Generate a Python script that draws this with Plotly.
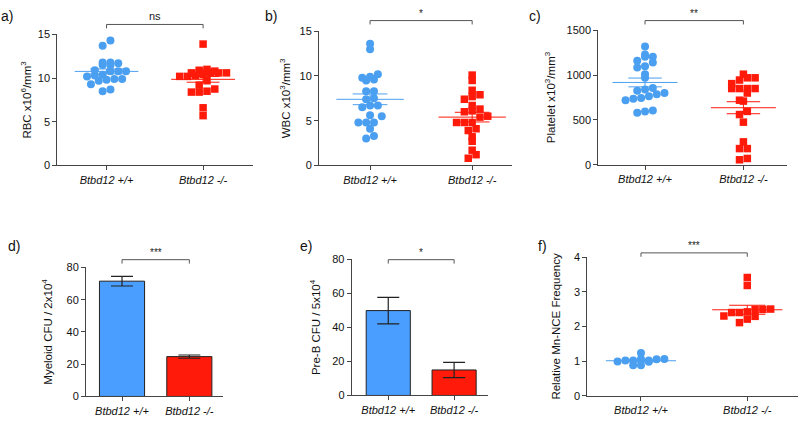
import numpy as np
import plotly.graph_objects as go

W, H = 800, 428

categories = ["Btbd12 +/+", "Btbd12 -/-"]

# a) RBC x10^6/mm^3
rbc_wt = [14.3, 13.7, 11.5, 11.8, 11.7, 11.8, 11.5, 10.3, 10.8, 10.8, 10.8,
          10.9, 10.2, 10.4, 9.9, 9.8, 9.7, 9.9, 9.3, 8.5, 8.7]
rbc_ko = [13.9, 10.9, 10.6, 10.6, 10.3, 10.6, 10.2, 10.7, 9.7, 10.6, 10.2,
          10.8, 10.4, 9.2, 11.0, 10.6, 8.75, 8.4, 8.4, 8.5, 6.6, 5.7]
rbc_mean = [10.77, 9.86]
rbc_sem = [0.28, 0.33]

# b) WBC x10^3/mm^3
wbc_wt = [13.6, 13.0, 9.9, 9.6, 9.5, 9.8, 10.2, 8.3, 8.3, 7.4, 7.5, 6.7,
          6.5, 6.7, 5.5, 5.6, 4.8, 4.8, 4.8, 4.1, 3.0, 3.3]
wbc_ko = [10.1, 9.5, 8.4, 7.7, 7.4, 7.9, 6.7, 6.3, 6.0, 6.1, 5.4, 5.5, 4.8,
          4.8, 4.8, 4.1, 3.9, 3.2, 2.7, 1.7, 1.2, 0.8]
wbc_mean = [7.39, 5.40]
wbc_sem = [0.60, 0.54]

# c) Platelet x10^3/mm^3
plt_wt = [1320, 1205, 1205, 1230, 1140, 1160, 1085, 1100, 1010, 970, 800,
          855, 825, 840, 765, 735, 720, 745, 785, 605, 580, 595]
plt_ko = [1010, 970, 970, 945, 905, 850, 850, 850, 850, 800, 710, 720, 595,
          560, 475, 255, 180, 180, 55, 70]
plt_mean = [918, 636]
plt_sem = [49, 67]

# d) Myeloid CFU / 2x10^4
myeloid_mean = [71.5, 24.7]
myeloid_sem = [3.0, 1.0]

# e) Pre-B CFU / 5x10^4
preb_mean = [49.9, 15.0]
preb_sem = [7.8, 4.5]

# f) Relative Mn-NCE frequency
mnnce_wt = [1.23, 1.02, 1.02, 1.06, 0.98, 1.05, 1.02, 1.06, 0.99, 1.02, 0.88, 0.88]
mnnce_ko = [3.41, 3.18, 2.50, 2.49, 2.49, 2.40, 2.40, 2.42, 2.29, 2.30, 2.21, 2.11]
mnnce_mean = [1.01, 2.48]
mnnce_sem = [0.03, 0.13]

significance = ["ns", "*", "**", "***", "*", "***"]
panel_letters = ["a)", "b)", "c)", "d)", "e)", "f)"]
y_titles = ["RBC x10<sup>6</sup>/mm<sup>3</sup>",
            "WBC x10<sup>3</sup>/mm<sup>3</sup>",
            "Platelet x10<sup>3</sup>/mm<sup>3</sup>",
            "Myeloid CFU / 2x10<sup>4</sup>",
            "Pre-B CFU / 5x10<sup>4</sup>",
            "Relative Mn-NCE Frequency"]

BLUE = "#4b9ff0"
BLUE_BAR = "#4a9eff"
RED = "#ff1a0a"
AX = "#444444"
FONT = "Liberation Sans, Arial, sans-serif"

# panel geometry in pixels: x span, x range, y top/bottom, y range, dtick, title standoff
panels = [
    dict(xp=(57.3, 253.3), xr=(-0.51, 1.52), yp=(29.3, 164.0), yr=(0, 15), dt=5, so=3,
         letter=(7, 10), brk=19),
    dict(xp=(319.0, 512.0), xr=(-0.50, 1.39), yp=(26.0, 164.0), yr=(0, 15), dt=5, so=6,
         letter=(271, 10), brk=15),
    dict(xp=(598.3, 786.7), xr=(-0.475, 1.44), yp=(25.0, 163.3), yr=(0, 1500), dt=500, so=8,
         letter=(535, 10), brk=15),
    dict(xp=(86.0, 223.0), xr=(-0.535, 1.50), yp=(269.0, 401.7), yr=(0, 80), dt=20, so=11,
         letter=(14, 247), brk=261),
    dict(xp=(351.7, 487.7), xr=(-0.555, 1.51), yp=(260.7, 400.7), yr=(0, 80), dt=20, so=9,
         letter=(306, 247), brk=261),
    dict(xp=(587.3, 798.3), xr=(-0.505, 1.48), yp=(258.3, 401.0), yr=(0, 4), dt=1, so=10,
         letter=(542, 247), brk=254),
]


def swarm(values, sx, sy, d=7.8, maxn=7):
    """Row-binned dot layout (like a column scatter): points whose values fall in the
    same marker-height band are spread side by side, centred on the category; very
    full rows wrap into a second, overlapping set of columns."""
    rows = {}
    for i, v in enumerate(values):
        rows.setdefault(int(round(v * sy / d)), []).append(i)
    offs = [0.0] * len(values)
    for idx in rows.values():
        idx = sorted(idx, key=lambda i: values[i])
        for c0 in range(0, len(idx), maxn):
            chunk = idx[c0:c0 + maxn]
            nrow = len(chunk)
            for j, i in enumerate(chunk):
                offs[i] = (j - (nrow - 1) / 2) * d / sx
    return offs


fig = go.Figure()

dot_sets = {0: (rbc_wt, rbc_ko, rbc_mean, rbc_sem),
            1: (wbc_wt, wbc_ko, wbc_mean, wbc_sem),
            2: (plt_wt, plt_ko, plt_mean, plt_sem),
            5: (mnnce_wt, mnnce_ko, mnnce_mean, mnnce_sem)}
bar_sets = {3: (myeloid_mean, myeloid_sem), 4: (preb_mean, preb_sem)}

for k, p in enumerate(panels):
    n = "" if k == 0 else str(k + 1)
    xa, ya = "x" + n, "y" + n
    sx = (p["xp"][1] - p["xp"][0]) / (p["xr"][1] - p["xr"][0])
    sy = (p["yp"][1] - p["yp"][0]) / (p["yr"][1] - p["yr"][0])
    if k in dot_sets:
        wt, ko, mean, sem = dot_sets[k]
        for gi, (vals, col, sym) in enumerate([(wt, BLUE, "circle"), (ko, RED, "square")]):
            offs = swarm(vals, sx, sy)
            fig.add_trace(go.Scatter(
                x=[gi + o for o in offs], y=vals, mode="markers", xaxis=xa, yaxis=ya,
                marker=dict(symbol=sym, size=8 if sym == "circle" else 7.5, color=col,
                            line=dict(width=0)),
                cliponaxis=False, hoverinfo="y"))
            m, s = mean[gi], sem[gi]
            fig.add_trace(go.Scatter(
                x=[gi - 0.33, gi + 0.33, None, gi - 0.17, gi + 0.17, None,
                   gi - 0.17, gi + 0.17, None, gi, gi],
                y=[m, m, None, m + s, m + s, None, m - s, m - s, None, m - s, m + s],
                mode="lines", xaxis=xa, yaxis=ya, line=dict(color=col, width=1),
                hoverinfo="skip"))
    else:
        mean, sem = bar_sets[k]
        fig.add_trace(go.Bar(
            x=[0, 1], y=mean, width=0.67, xaxis=xa, yaxis=ya,
            marker=dict(color=[BLUE_BAR, RED], line=dict(color="#222222", width=1)),
            error_y=dict(type="data", array=sem, width=11, thickness=1.2, color="#222222")))

    xd = [p["xp"][0] / W, p["xp"][1] / W]
    yd = [1 - p["yp"][1] / H, 1 - p["yp"][0] / H]
    axis_common = dict(showline=True, linecolor=AX, linewidth=1, ticks="outside",
                       ticklen=4, tickcolor=AX, tickwidth=1, showgrid=False,
                       zeroline=False, fixedrange=True)
    fig.layout["xaxis" + n] = dict(
        domain=xd, range=list(p["xr"]), anchor=ya, tickvals=[0, 1], ticktext=categories,
        tickfont=dict(family=FONT, size=11, color="#111111", style="italic"),
        **axis_common)
    fig.layout["yaxis" + n] = dict(
        domain=yd, range=list(p["yr"]), anchor=xa, dtick=p["dt"],
        tickfont=dict(family=FONT, size=11, color="#111111"),
        title=dict(text=y_titles[k], font=dict(family=FONT, size=11.5, color="#111111"),
                   standoff=p["so"]),
        **axis_common)

    # significance bracket
    yb = 1 - p["brk"] / H
    yb2 = 1 - (p["brk"] + 4) / H
    lc = dict(color="#555555", width=1)
    fig.add_shape(type="line", xref=xa, yref="paper", x0=0, x1=1, y0=yb, y1=yb, line=lc)
    fig.add_shape(type="line", xref=xa, yref="paper", x0=0, x1=0, y0=yb, y1=yb2, line=lc)
    fig.add_shape(type="line", xref=xa, yref="paper", x0=1, x1=1, y0=yb, y1=yb2, line=lc)
    fig.add_annotation(x=0.5, y=yb, xref=xa, yref="paper", text=significance[k],
                       showarrow=False, yanchor="bottom", yshift=0,
                       font=dict(family=FONT, size=11 if k == 0 else 10, color="#222222"))
    # panel letter
    fig.add_annotation(x=p["letter"][0] / W, y=1 - p["letter"][1] / H, xref="paper",
                       yref="paper", text=panel_letters[k], showarrow=False,
                       xanchor="center", yanchor="middle",
                       font=dict(family=FONT, size=14, color="#111111"))

fig.update_layout(width=W, height=H, margin=dict(l=0, r=0, t=0, b=0),
                  plot_bgcolor="white", paper_bgcolor="white", showlegend=False,
                  bargap=0.3)

fig.write_html("out.html", config={"displayModeBar": False, "staticPlot": True},
               post_script="document.body.style.margin='0px';document.body.style.padding='0px';")
